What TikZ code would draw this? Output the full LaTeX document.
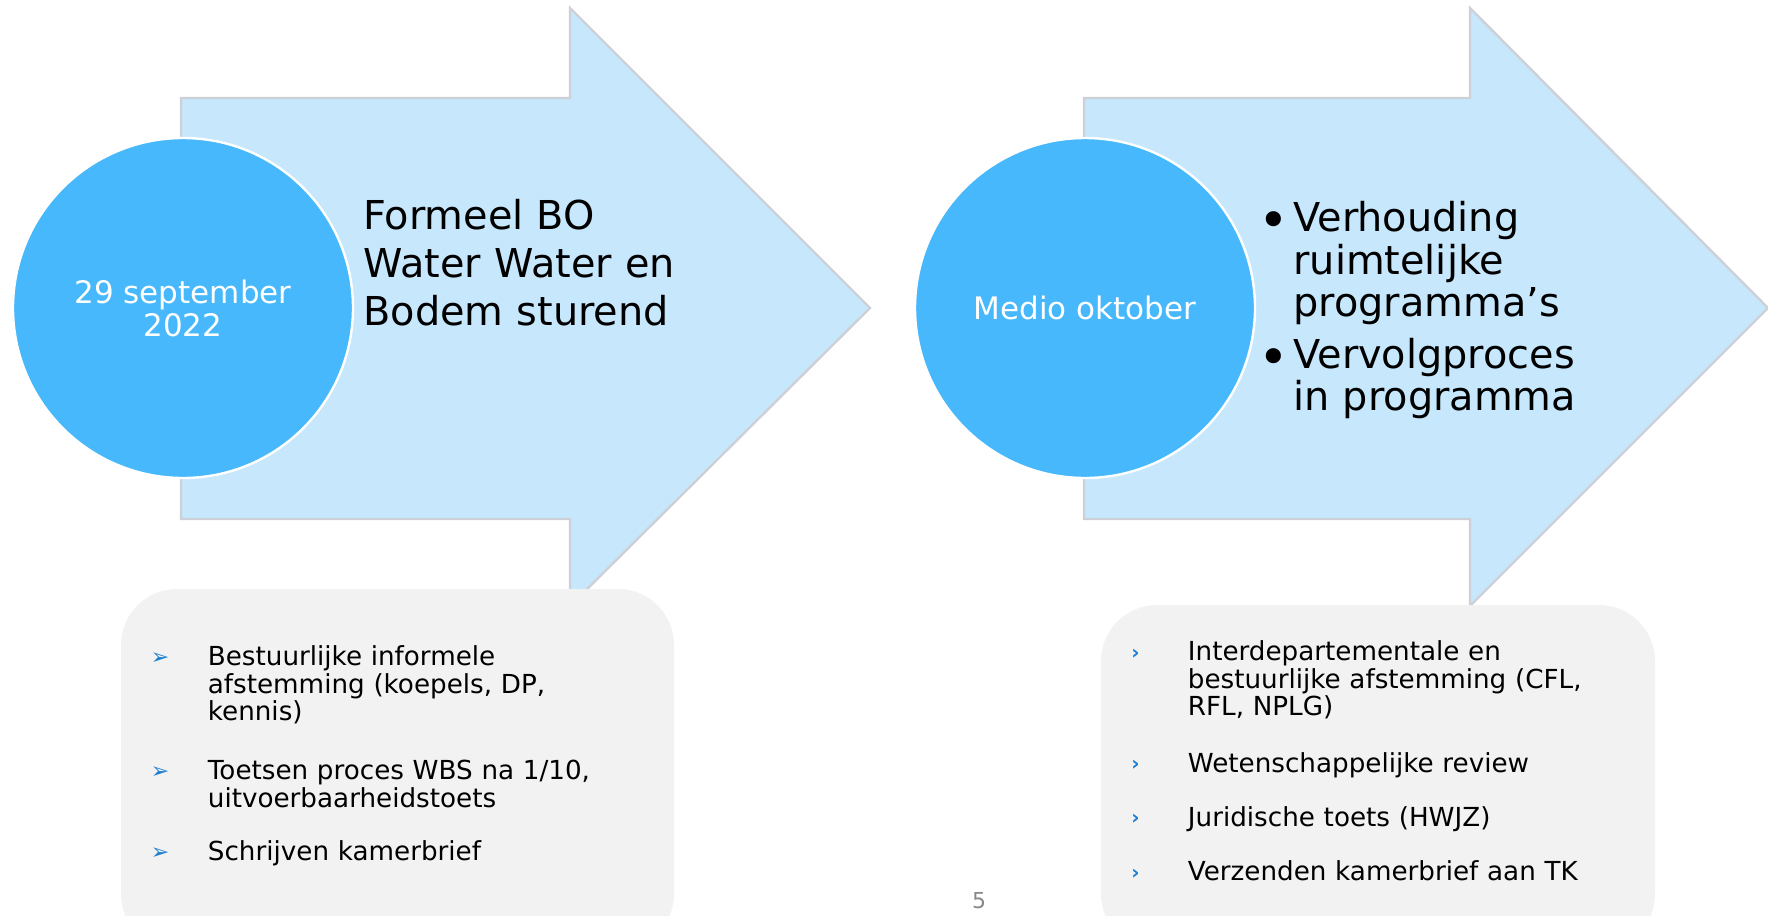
\documentclass[tikz,border=0pt]{standalone}
\usepackage{fontspec}
\setmainfont{DejaVu Sans}
\usepackage{xcolor}
\usetikzlibrary{positioning}

\definecolor{arrowblue}{RGB}{199,231,252}
\definecolor{dotblue}{RGB}{71,184,251}
\definecolor{edgegray}{RGB}{206,208,216}
\definecolor{boxgray}{RGB}{242,242,242}
\definecolor{tipblue}{RGB}{28,126,210}
\definecolor{pagegray}{RGB}{137,137,137}

\begin{document}
\begin{tikzpicture}[
        x=0.5pt, y=-0.5pt,
        steparrow/.style={fill=arrowblue, draw=edgegray, line width=1.2pt, line join=miter},
        datedot/.style={circle, fill=dotblue, draw=white, line width=1.2pt,
            minimum size=170pt, inner sep=0pt, text=white, align=center,
            font=\fontsize{15.5}{16.5}\selectfont},
        bigtext/.style={anchor=base west, inner sep=0pt, text width=260pt, align=left,
            font=\fontsize{19.9}{24}\selectfont},
        listbox/.style={fill=boxgray, draw=none, rounded corners=28pt},
        listtext/.style={anchor=base west, inner sep=0pt, text width=230pt, align=left,
            font=\fontsize{13.1}{13.8}\selectfont},
        listmark/.style={inner sep=0pt, text=tipblue},
    ]
    \useasboundingbox[fill=white] (0,0) rectangle (1768,916);

    % arrows
    \draw[steparrow] (181,98) -- (570,98) -- (570,8) -- (870,308)
                     -- (570,606) -- (570,519) -- (181,519) -- cycle;
    \draw[steparrow] (1084,98) -- (1470,98) -- (1470,8) -- (1768,308)
                     -- (1470,606) -- (1470,519) -- (1084,519) -- cycle;

    %circles
    \node[datedot] (sept) at (183,308) {29 september\\2022};
    \node[datedot] (okt) at (1085,308) {Medio oktober};

    %texts in the arrows
    \node[bigtext] (formeel) at (363,229) {Formeel BO\\Water Water en\\Bodem sturend};

    \node[inner sep=0pt, font=\fontsize{26}{26}\selectfont] (dot1) at (1274,225) {•};
    \node[bigtext, font=\fontsize{19.9}{21.25}\selectfont] (verhouding) at (1293,231.7)
        {Verhouding\\ruimtelijke\\programma’s};
    \node[inner sep=0pt, font=\fontsize{26}{26}\selectfont] (dot2) at (1274,362) {•};
    \node[bigtext, font=\fontsize{19.9}{21.25}\selectfont] (vervolg) at (1293,368.3)
        {Vervolgproces\\in programma};

    %lists under the arrows
    \draw[listbox] (121,589) rectangle (674,950);
    \draw[listbox] (1101,605) rectangle (1655,950);

    \foreach \y/\txt [count=\i] in {665.7/{Bestuurlijke informele\\afstemming (koepels, DP,\\kennis)},
                                   779.6/{Toetsen proces WBS na 1/10,\\uitvoerbaarheidstoets},
                                   860.7/{Schrijven kamerbrief}} {
        \node[listmark, font=\fontsize{11}{11}\selectfont] (lmark\i) at (160,\y-6.7) {➢};
        \node[listtext] (litem\i) at (207.5,\y) {\txt};
    }
    \foreach \y/\txt [count=\i] in {660.7/{Interdepartementale en\\bestuurlijke afstemming (CFL,\\RFL, NPLG)},
                                   772.3/{Wetenschappelijke review},
                                   826.4/{Juridische toets (HWJZ)},
                                   880.5/{Verzenden kamerbrief aan TK}} {
        \node[listmark, font=\bfseries\fontsize{10}{10}\selectfont] (rmark\i) at (1135.5,\y-6.7) {›};
        \node[listtext] (ritem\i) at (1187.5,\y) {\txt};
    }

    % page number
    \node[text=pagegray, font=\fontsize{11}{11}\selectfont] (pagenr) at (979,901) {5};
\end{tikzpicture}
\end{document}
